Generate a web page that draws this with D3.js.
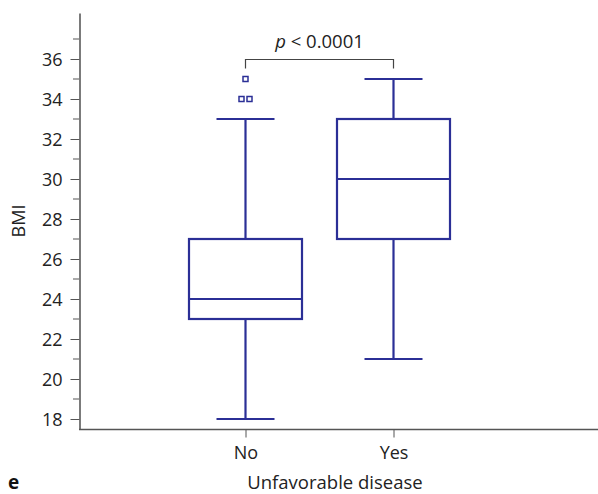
<!DOCTYPE html>
<html>
<head>
<meta charset="utf-8">
<script src="https://cdn.jsdelivr.net/npm/d3@7"></script>
<style>
  body { margin: 0; background: #fff; }
  svg, svg text { font-family: "Open Sans", sans-serif; }
</style>
</head>
<body>
<svg width="598" height="494"></svg>
<script>
const width = 598;
const height = 494;

// data
const groups = ["No", "Yes"];
const whiskerLow = [18, 21];
const q1 = [23, 27];
const medians = [24, 30];
const q3 = [27, 33];
const whiskerHigh = [33, 35];
const outliers = [
  { group: "No", value: 35, offset: 0 },
  { group: "No", value: 34, offset: -4 },
  { group: "No", value: 34, offset: 4 },
];
const yTicks = [18, 20, 22, 24, 26, 28, 30, 32, 34, 36];
const yMinorTicks = [19, 21, 23, 25, 27, 29, 31, 33, 35, 37];

const boxColor = "#2b2f96";
const textColor = "#222";

const svg = d3.select("svg");

const xScale = d3.scalePoint().domain(groups).range([245.5, 393.5]);

const yScale = d3.scaleLinear().domain([17.5, 38.3]).range([429, 13]);

const boxWidth = 113;
const capWidth = 58;

const drawAxes = () => {
  // minor ticks
  svg
    .append("g")
    .selectAll("line")
    .data(yMinorTicks.filter((d) => yScale(d) > 13))
    .enter()
    .append("line")
    .attr("x1", 73)
    .attr("x2", 79)
    .attr("y1", (d) => yScale(d))
    .attr("y2", (d) => yScale(d))
    .attr("stroke", "#555")
    .attr("stroke-width", 1);

  const yAxis = d3
    .axisLeft(yScale)
    .tickValues(yTicks)
    .tickSize(9)
    .tickPadding(8)
    .tickSizeOuter(0);
  const gy = svg
    .append("g")
    .attr("transform", "translate(79.5, 0)")
    .call(yAxis);
  gy.attr("font-family", "Open Sans").attr("font-size", 18);
  gy.select(".domain").attr("stroke", "#333").attr("stroke-width", 1.3);
  gy.selectAll(".tick line").attr("stroke", "#555");
  gy.selectAll("text").attr("fill", textColor).attr("dy", "0.34em");

  const xAxis = d3
    .axisBottom(xScale)
    .tickSize(8)
    .tickPadding(9)
    .tickSizeOuter(0);
  const gx = svg
    .append("g")
    .attr("transform", "translate(0, 429.5)")
    .call(xAxis);
  gx.attr("font-family", "Open Sans").attr("font-size", 18);
  gx.select(".domain")
    .attr("d", `M79,0H${width}`)
    .attr("stroke", "#555")
    .attr("stroke-width", 1.3);
  gx.selectAll(".tick line").attr("stroke", "#555");
  gx.selectAll("text").attr("fill", textColor);

  svg
    .append("text")
    .attr("transform", `translate(25, ${(13 + 429) / 2}) rotate(-90)`)
    .attr("text-anchor", "middle")
    .attr("fill", textColor)
    .style("font-size", "18px")
    .text("BMI");

  svg
    .append("text")
    .attr("x", 335)
    .attr("y", 489)
    .attr("text-anchor", "middle")
    .attr("fill", textColor)
    .style("font-size", "18.5px")
    .text("Unfavorable disease");

  svg
    .append("text")
    .attr("x", 8)
    .attr("y", 489)
    .attr("fill", "#111")
    .style("font-size", "19px")
    .style("font-weight", "bold")
    .text("e");
};

const drawBoxes = () => {
  const data = groups.map((g, i) => ({
    group: g,
    lo: whiskerLow[i],
    q1: q1[i],
    med: medians[i],
    q3: q3[i],
    hi: whiskerHigh[i],
  }));

  const g = svg
    .selectAll(".box")
    .data(data)
    .enter()
    .append("g")
    .attr("class", "box")
    .attr("stroke", boxColor)
    .attr("stroke-width", 2.2)
    .attr("fill", "none");

  // whiskers
  g.append("line")
    .attr("x1", (d) => xScale(d.group))
    .attr("x2", (d) => xScale(d.group))
    .attr("y1", (d) => yScale(d.lo))
    .attr("y2", (d) => yScale(d.q1));
  g.append("line")
    .attr("x1", (d) => xScale(d.group))
    .attr("x2", (d) => xScale(d.group))
    .attr("y1", (d) => yScale(d.q3))
    .attr("y2", (d) => yScale(d.hi));
  // caps
  g.append("line")
    .attr("x1", (d) => xScale(d.group) - capWidth / 2)
    .attr("x2", (d) => xScale(d.group) + capWidth / 2)
    .attr("y1", (d) => yScale(d.lo))
    .attr("y2", (d) => yScale(d.lo));
  g.append("line")
    .attr("x1", (d) => xScale(d.group) - capWidth / 2)
    .attr("x2", (d) => xScale(d.group) + capWidth / 2)
    .attr("y1", (d) => yScale(d.hi))
    .attr("y2", (d) => yScale(d.hi));
  // box
  g.append("rect")
    .attr("x", (d) => xScale(d.group) - boxWidth / 2)
    .attr("width", boxWidth)
    .attr("y", (d) => yScale(d.q3))
    .attr("height", (d) => yScale(d.q1) - yScale(d.q3));
  // median
  g.append("line")
    .attr("x1", (d) => xScale(d.group) - boxWidth / 2)
    .attr("x2", (d) => xScale(d.group) + boxWidth / 2)
    .attr("y1", (d) => yScale(d.med))
    .attr("y2", (d) => yScale(d.med));

  svg
    .selectAll(".outlier")
    .data(outliers)
    .enter()
    .append("rect")
    .attr("class", "outlier")
    .attr("x", (d) => xScale(d.group) + d.offset - 2.5)
    .attr("y", (d) => yScale(d.value) - 2.5)
    .attr("width", 5)
    .attr("height", 5)
    .attr("fill", "none")
    .attr("stroke", boxColor)
    .attr("stroke-width", 1.5);
};

const drawBracket = () => {
  const x1 = xScale(groups[0]);
  const x2 = xScale(groups[1]);
  const yb = yScale(36) + 0.5;
  svg
    .append("path")
    .attr("d", `M${x1},${yb + 9}V${yb}H${x2}V${yb + 9}`)
    .attr("fill", "none")
    .attr("stroke", "#444")
    .attr("stroke-width", 1.2);

  const t = svg
    .append("text")
    .attr("x", (x1 + x2) / 2)
    .attr("y", yb - 12)
    .attr("text-anchor", "middle")
    .attr("fill", textColor)
    .style("font-size", "18.5px");
  t.append("tspan").style("font-style", "italic").text("p");
  t.append("tspan").text(" < 0.0001");
};

drawAxes();
drawBoxes();
drawBracket();
</script>
</body>
</html>
